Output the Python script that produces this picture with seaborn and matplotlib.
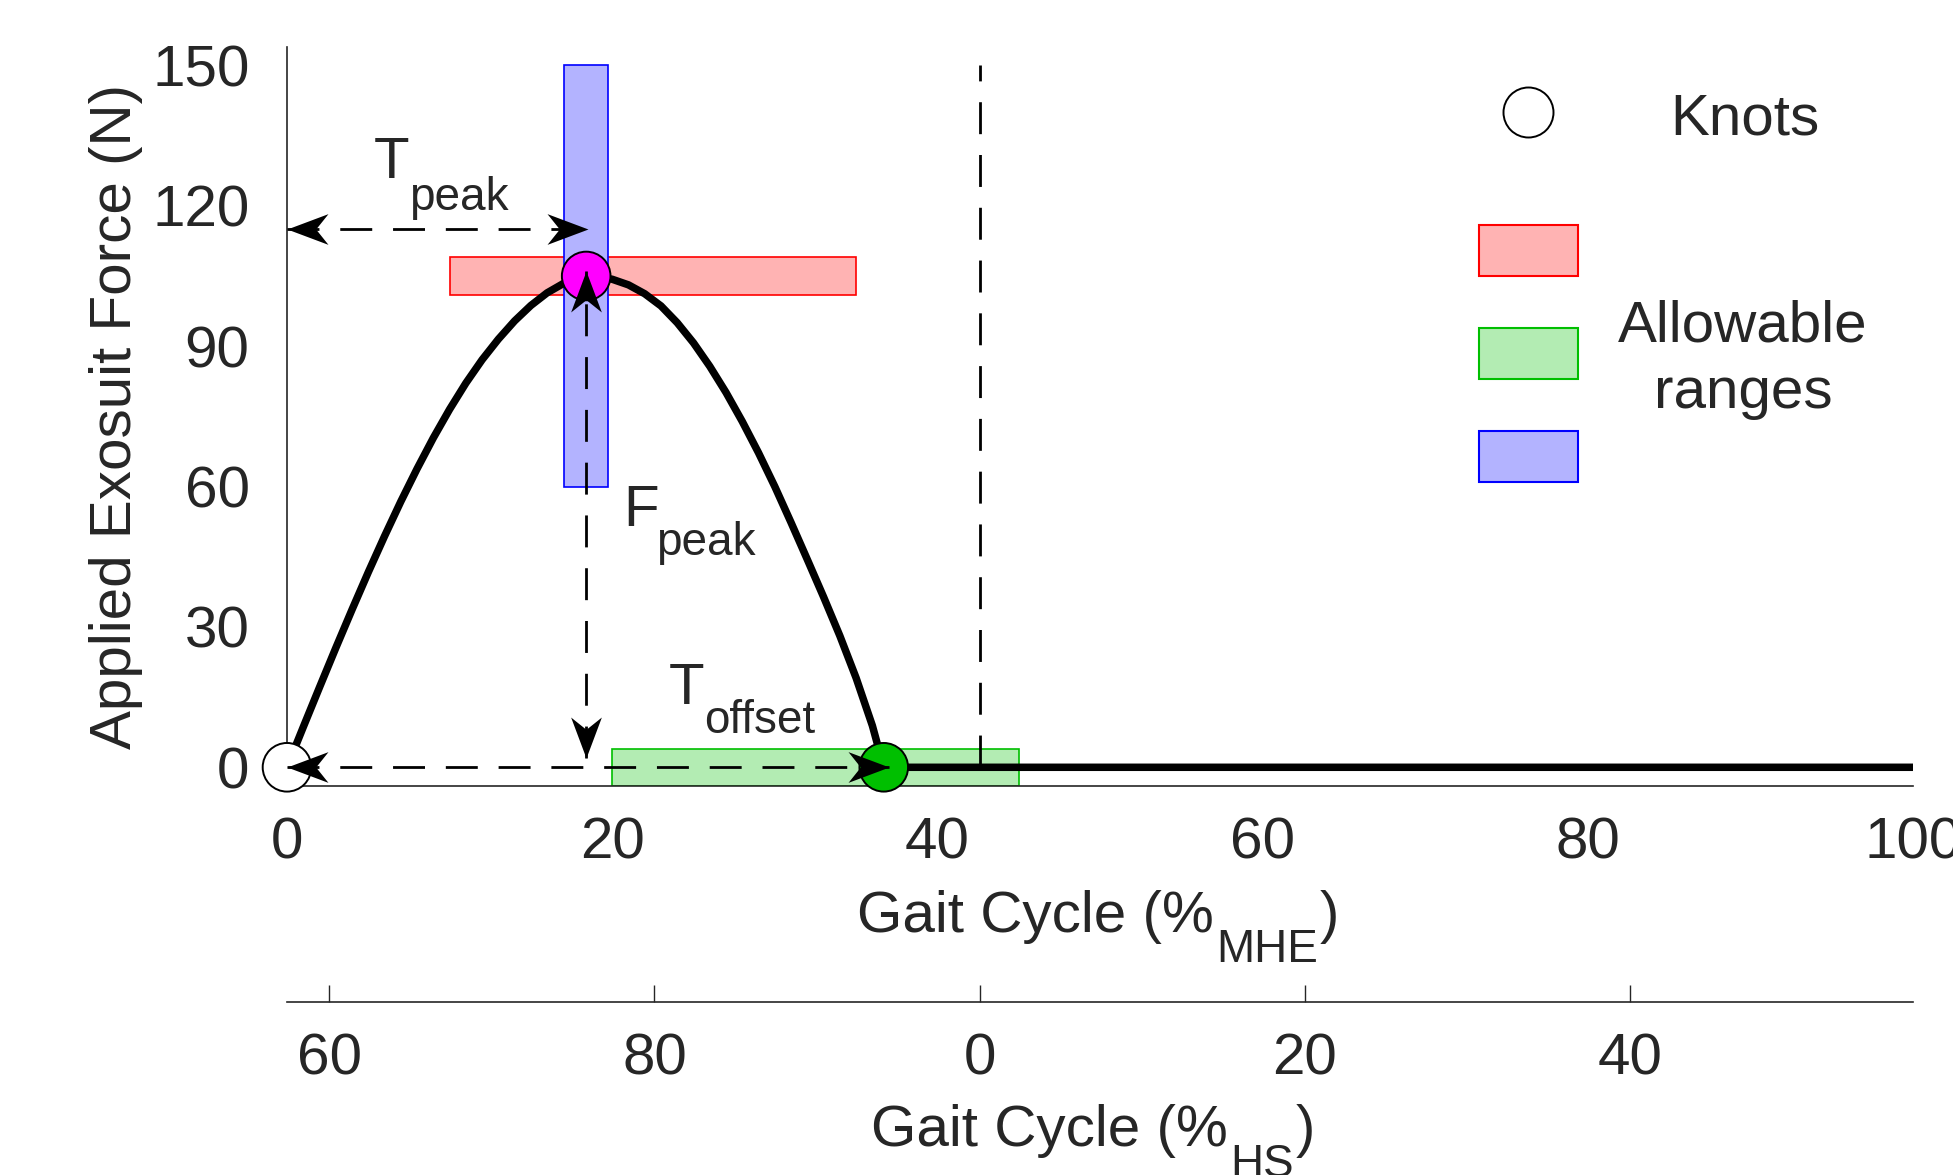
import numpy as np
import pandas as pd
import matplotlib
matplotlib.use('Agg')
import matplotlib.pyplot as plt
import seaborn as sns
from matplotlib.patches import Rectangle
from matplotlib.path import Path

# force profile (% gait cycle from MHE, N)
curve_x = [0, 1, 2, 3, 4, 5, 6, 7, 8, 9, 10, 11, 12, 13, 14, 15, 16, 17, 18, 18.4,
           19, 20, 21, 22, 23, 24, 25, 26, 27, 28, 29, 30, 31, 32, 33, 34, 35, 36, 36.7, 100]
curve_y = [0, 8.6, 17.1, 25.5, 33.7, 41.7, 49.4, 56.8, 63.8, 70.4, 76.5, 82.1, 87.1, 91.5,
           95.4, 98.7, 101.4, 103.4, 104.6, 105.0,
           104.9, 104.3, 103.1, 101.2, 98.6, 95.0, 90.7, 85.7, 80.1, 73.9, 67.2, 60.0, 52.3,
           44.4, 36.4, 28.1, 19.1, 8.9, 0, 0]

knot_names = ['start', 'peak', 'offset']
knot_x = [0, 18.4, 36.7]
knot_y = [0, 105, 0]
knot_colors = ['#FFFFFF', '#FF00FF', '#00BF00']

# allowable ranges: x0, x1, y0, y1
range_names = ['peak force', 'offset time', 'peak time']
range_x0 = [10, 20, 17.05]
range_x1 = [35, 45, 19.75]
range_y0 = [101, -4, 60]
range_y1 = [109, 4, 150]
range_face = [(1, 0.7, 0.7), (0.7, 0.925, 0.7), (0.7, 0.7, 1)]
range_edge = ['#FF0000', '#00BF00', '#0000FF']

hs_zero = 42.6
hs_tick_pos = [2.6, 22.6, 42.6, 62.6, 82.6]
hs_tick_labels = ['60', '80', '0', '20', '40']

sns.set_style('white')
plt.rcParams['font.family'] = ['Liberation Sans', 'DejaVu Sans']
gray = '#262626'

W, H = 1953, 1175
fig = plt.figure(figsize=(W / 100, H / 100), dpi=100)
ax = fig.add_axes([287 / W, 1 - 786 / H, 1626 / W, 739.3 / H])

# ranges (blue drawn last, on top)
for i in range(3):
    ax.add_patch(Rectangle((range_x0[i], range_y0[i]), range_x1[i] - range_x0[i],
                           range_y1[i] - range_y0[i], fc=range_face[i], ec=range_edge[i],
                           lw=1.2, zorder=1 + 0.1 * i))

df = pd.DataFrame({'gait': curve_x, 'force': curve_y})
sns.lineplot(data=df, x='gait', y='force', ax=ax, color='k', lw=5.4, sort=False,
             estimator=None, zorder=3, solid_joinstyle='round')

kdf = pd.DataFrame({'x': knot_x, 'y': knot_y, 'k': knot_names})
sns.scatterplot(data=kdf, x='x', y='y', hue='k', palette=dict(zip(knot_names, knot_colors)),
                s=35 ** 2, edgecolor='k', linewidth=1.4, legend=False, ax=ax,
                zorder=4, clip_on=False)


def head(angle):
    L, Wd, n = 40, 30, 12
    v = np.array([[0, 0], [-L, Wd / 2], [-L + n, 0], [-L, -Wd / 2], [0, 0]], float)
    a = np.deg2rad(angle)
    R = np.array([[np.cos(a), -np.sin(a)], [np.sin(a), np.cos(a)]])
    v = np.round(v @ R.T, 6)
    return Path(v, [Path.MOVETO, Path.LINETO, Path.LINETO, Path.LINETO, Path.CLOSEPOLY])


dash = (0, (11.5, 7.5))


def dbl_arrow(x0, y0, x1, y1):
    ax.plot([x0, x1], [y0, y1], color='k', lw=2.0, ls=dash, zorder=5, clip_on=False)
    ang = np.degrees(np.arctan2(y1 - y0, x1 - x0))
    ax.plot([x1], [y1], marker=head(ang), ms=59, mfc='k', mec='k', mew=0,
            ls='none', zorder=6, clip_on=False)
    ax.plot([x0], [y0], marker=head(ang + 180), ms=59, mfc='k', mec='k', mew=0,
            ls='none', zorder=6, clip_on=False)


dbl_arrow(0, 115, 18.5, 115)      # T_peak
dbl_arrow(18.4, 2, 18.4, 106)     # F_peak
dbl_arrow(0, 0, 37.0, 0)          # T_offset
ax.plot([hs_zero, hs_zero], [0, 150], color='k', lw=2.0, ls=dash, zorder=5)

ax.text(5.35, 125.9, 'T', fontsize=42, va='baseline', ha='left')
ax.text(7.53, 119.1, 'peak', fontsize=33, va='baseline', ha='left')
ax.text(20.65, 51.6, 'F', fontsize=42, va='baseline', ha='left')
ax.text(22.72, 45.4, 'peak', fontsize=33, va='baseline', ha='left')
ax.text(23.5, 13.5, 'T', fontsize=42, va='baseline', ha='left')
ax.text(25.65, 7.3, 'offset', fontsize=33, va='baseline', ha='left')

ax.set_xlim(0, 100)
ax.set_ylim(-4, 154)
ax.set_xticks(range(0, 101, 20))
ax.set_yticks(range(0, 151, 30))
ax.tick_params(direction='in', length=12, width=1, color=gray, labelcolor=gray, labelsize=42)
ax.tick_params(axis='x', pad=22)
ax.tick_params(axis='y', pad=27)
ax.spines[['top', 'right']].set_visible(False)
for s in ['left', 'bottom']:
    ax.spines[s].set_linewidth(1.2)
    ax.spines[s].set_color(gray)
ax.set_xlabel('')
ax.set_ylabel('Applied Exosuit Force (N)', fontsize=42, color=gray, labelpad=6.5)

sec = ax.secondary_xaxis((786 - 1002) / 739.3)
sec.set_xticks(hs_tick_pos, labels=hs_tick_labels)
sec.tick_params(direction='in', length=12, width=1, color=gray, labelcolor=gray,
                labelsize=42, pad=22)
sec.spines['bottom'].set_linewidth(1.2)
sec.spines['bottom'].set_color(gray)


def sub_label(x_left, base, main, sub, tail, drop=30):
    t1 = ax.annotate(main, xy=(x_left, H - base), xycoords='figure pixels', fontsize=42,
                     color=gray, va='baseline', ha='left', annotation_clip=False)
    t2 = ax.annotate(sub, xy=(1, H - base - drop), xycoords=(t1, 'figure pixels'),
                     xytext=(2, 0), textcoords='offset points', fontsize=33, color=gray,
                     va='baseline', ha='left', annotation_clip=False)
    ax.annotate(tail, xy=(1, H - base), xycoords=(t2, 'figure pixels'), xytext=(1, 0),
                textcoords='offset points', fontsize=42, color=gray, va='baseline',
                ha='left', annotation_clip=False)


sub_label(857, 932, 'Gait Cycle (%', 'MHE', ')')
sub_label(871, 1146, 'Gait Cycle (%', 'HS', ')', drop=31)

# legend-like key
ax.scatter([0.7632], [0.911], s=36 ** 2, facecolor='white', edgecolor='k', linewidth=1.4,
           transform=ax.transAxes, clip_on=False, zorder=4)
ax.text(0.8967, 0.8819, 'Knots', fontsize=42, ha='center', va='baseline',
        transform=ax.transAxes)
key_y0 = [0.6898, 0.5505, 0.4108]
for i in range(3):
    ax.add_patch(Rectangle((0.7333, key_y0[i]), 0.0609, 0.069, fc=range_face[i],
                           ec=range_edge[i], lw=1.5, transform=ax.transAxes,
                           clip_on=False))
ax.text(0.8955, (786 - 341.7) / 739.3, 'Allowable', fontsize=42, ha='center',
        va='baseline', transform=ax.transAxes)
ax.text(0.8955, (786 - 408.3) / 739.3, 'ranges', fontsize=42, ha='center',
        va='baseline', transform=ax.transAxes)

fig.savefig('out.png', dpi=100)
